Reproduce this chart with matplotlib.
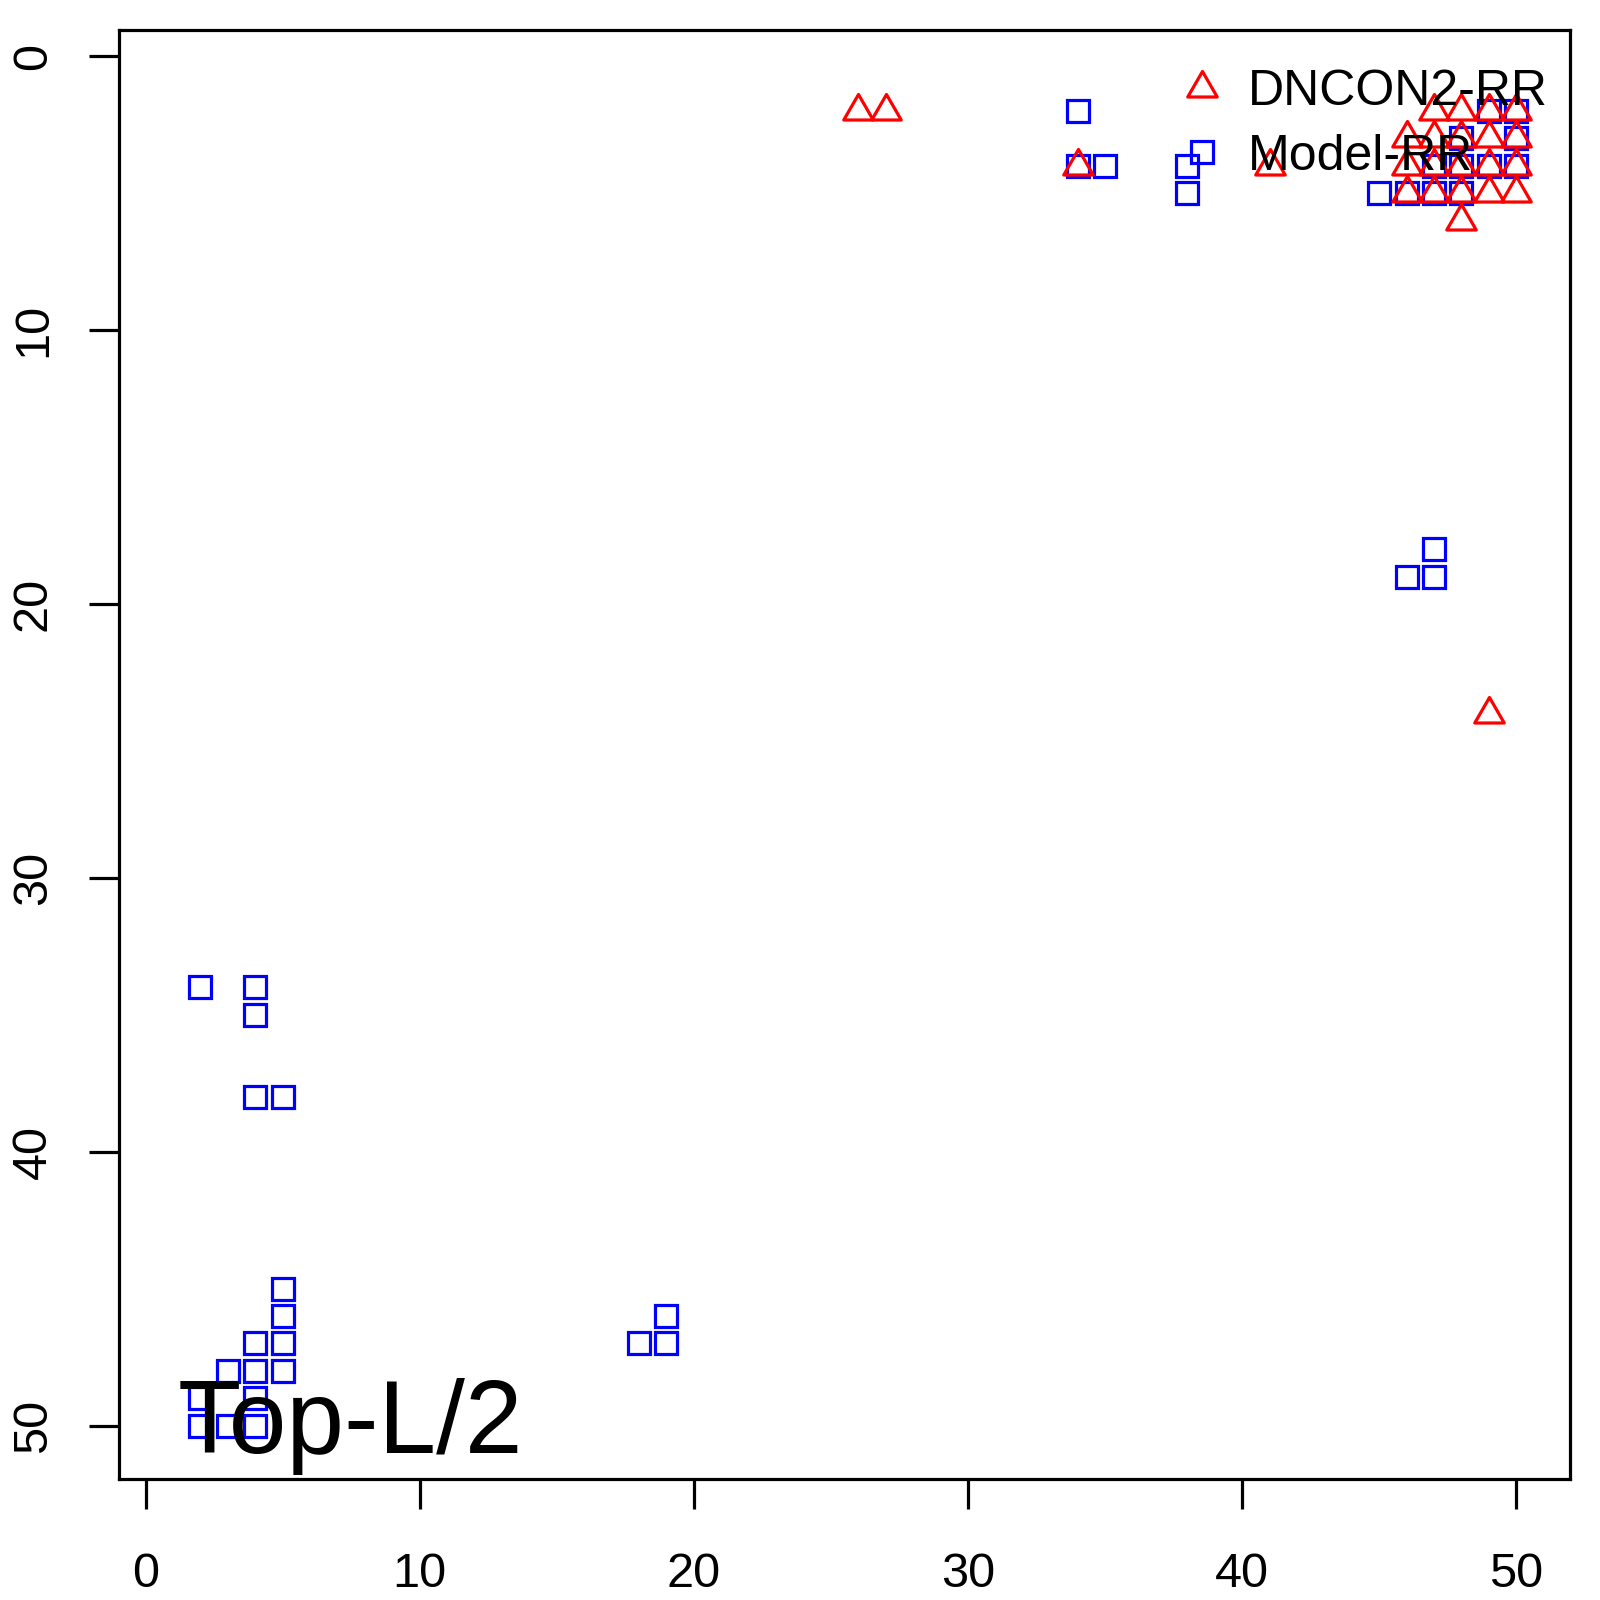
import matplotlib
matplotlib.use("Agg")
import matplotlib.pyplot as plt
from matplotlib.path import Path

plt.rcParams["font.family"] = ["Liberation Sans", "DejaVu Sans"]

# DNCON2-RR contacts (red triangles)
dncon_x = [26, 27, 34, 41, 49,
           47, 48, 49, 50,
           46, 47, 48, 49, 50,
           46, 47, 48, 49, 50,
           46, 47, 48, 49, 50,
           48]
dncon_y = [2, 2, 4, 4, 24,
           2, 2, 2, 2,
           3, 3, 3, 3, 3,
           4, 4, 4, 4, 4,
           5, 5, 5, 5, 5,
           6]

# Model-RR contacts (blue squares)
model_x = [2, 4, 4, 4, 5,
           5, 5, 5, 4, 5, 4, 3, 4, 2, 2, 3, 4,
           18, 19, 19,
           34, 34, 35, 38, 38,
           46, 47, 47,
           45, 46, 47, 48,
           47, 48, 49, 50,
           48, 50,
           49, 50]
model_y = [34, 34, 35, 38, 38,
           45, 46, 47, 47, 48, 48, 48, 49, 49, 50, 50, 50,
           47, 47, 46,
           2, 4, 4, 4, 5,
           19, 19, 18,
           5, 5, 5, 5,
           4, 4, 4, 4,
           3, 3,
           2, 2]

ticks = [0, 10, 20, 30, 40, 50]
labels = ["DNCON2-RR", "Model-RR"]

# R-style pch=2 triangle (centroid centred, equilateral)
tri = Path([(0, 1), (-0.866, -0.5), (0.866, -0.5), (0, 1)],
           [Path.MOVETO, Path.LINETO, Path.LINETO, Path.CLOSEPOLY])

fig = plt.figure(figsize=(16, 16), dpi=100)
ax = fig.add_axes([0.07456, 0.07544, 0.9067, 0.9058])

lw = 2.3
ax.plot(model_x, model_y, linestyle="none", marker="s", markersize=15.8,
        markerfacecolor="none", markeredgecolor="blue", markeredgewidth=lw,
        label=labels[1])
ax.plot(dncon_x, dncon_y, linestyle="none", marker=tri, markersize=24.5,
        markerfacecolor="none", markeredgecolor="red", markeredgewidth=lw,
        label=labels[0])

ax.set_xlim(-0.96, 51.96)
ax.set_ylim(51.96, -0.96)
ax.set_xticks(ticks)
ax.set_yticks(ticks)
ax.set_yticklabels([str(t) for t in ticks], rotation=90, va="center")
ax.tick_params(axis="both", labelsize=35, length=21.6, width=lw,
               direction="out")
ax.tick_params(axis="x", pad=31)
ax.tick_params(axis="y", pad=24)
for s in ax.spines.values():
    s.set_linewidth(lw)

handles, labs = ax.get_legend_handles_labels()
leg = ax.legend(handles[::-1], labs[::-1], loc="upper right",
                bbox_to_anchor=(0.9916, 0.980), frameon=False, fontsize=36,
                handlelength=1.0, handletextpad=0.42, labelspacing=0.37,
                borderpad=0.2, borderaxespad=0.0, numpoints=1)

ax.text(1.15, 51.0, "Top-L/2", fontsize=74.5, ha="left", va="baseline")

fig.savefig("out.png", dpi=100)
plt.close(fig)
